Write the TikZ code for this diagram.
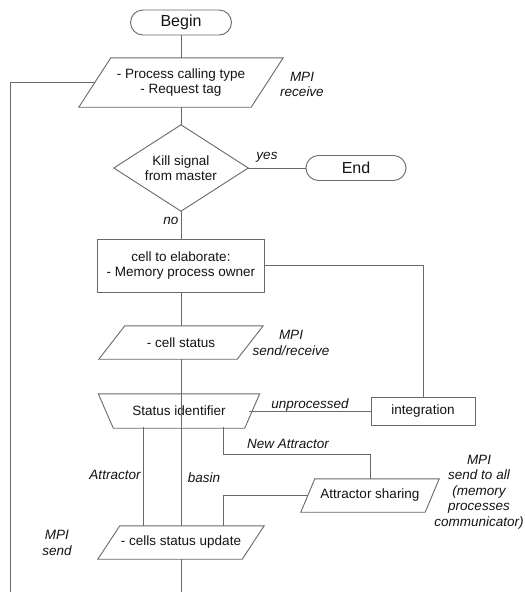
\documentclass[tikz,border=0pt]{standalone}
\usepackage{fontspec}
\setmainfont{Liberation Sans}
\definecolor{lc}{RGB}{105,105,105}
\definecolor{tc}{RGB}{20,20,20}
\begin{document}
\begin{tikzpicture}[x=1pt,y=-1pt,
  box/.style={draw=lc, line width=0.9pt},
  shp/.style={draw=lc, line width=0.9pt},
  txt/.style={font=\fontsize{13.5}{15.5}\selectfont, text=tc, align=center, inner sep=0pt},
  big/.style={font=\fontsize{16}{18}\selectfont},
  lab/.style={font=\fontsize{13.5}{15.5}\selectfont\itshape, text=tc, align=center, inner sep=0pt},
  conn/.style={draw=lc, line width=0.9pt}]
\useasboundingbox (0,0) rectangle (525,592);
\fill[white] (0,0) rectangle (525,592);

% nodes
\node[box, txt, big, rounded corners=12.5pt, minimum width=101pt, minimum height=25pt] (begin) at (181,22.5) {Begin};
\node[txt, minimum width=172pt, minimum height=49pt] (proc) at (181,82.5) {- Process calling type\\- Request tag};
\draw[shp] ([xshift=16pt]proc.north west) -- ([xshift=16pt]proc.north east) -- ([xshift=-16pt]proc.south east) -- ([xshift=-16pt]proc.south west) -- cycle;

\node[txt, minimum width=134pt, minimum height=86pt] (kill) at (181,168) {Kill signal\\from master};
\draw[shp] (kill.north) -- (kill.east) -- (kill.south) -- (kill.west) -- cycle;

\node[box, txt, big, rounded corners=12.5pt, minimum width=100pt, minimum height=25pt] (end) at (356,168) {End};

\node[box, txt, minimum width=167pt, minimum height=53pt] (cell) at (181,265.5) {cell to elaborate:\\- Memory process owner};

\node[txt, minimum width=138pt, minimum height=33pt] (cst) at (181,342.5) {- cell status};
\draw[shp] ([xshift=13pt]cst.north west) -- ([xshift=13pt]cst.north east) -- ([xshift=-13pt]cst.south east) -- ([xshift=-13pt]cst.south west) -- cycle;

\node[txt, minimum width=161pt, minimum height=34pt] (ident) at (179,411) {Status identifier};
\draw[shp] (ident.north west) -- (ident.north east) -- ([xshift=-15pt]ident.south east) -- ([xshift=15pt]ident.south west) -- cycle;

\node[box, txt, minimum width=104pt, minimum height=28pt] (integ) at (423,411) {integration};

\node[txt, minimum width=124pt, minimum height=33pt] (share) at (370,495.5) {Attractor sharing};
\draw[shp] ([xshift=7pt]share.north west) -- ([xshift=7pt]share.north east) -- ([xshift=-7pt]share.south east) -- ([xshift=-7pt]share.south west) -- cycle;

\node[txt, minimum width=144pt, minimum height=33pt] (upd) at (181,542.5) {- cells status update};
\draw[shp] ([xshift=11pt]upd.north west) -- ([xshift=11pt]upd.north east) -- ([xshift=-11pt]upd.south east) -- ([xshift=-11pt]upd.south west) -- cycle;

% coordinates
\coordinate (loopb) at (10,592);
\coordinate (mainb) at (181,592);
\coordinate (nabend) at (223,454);
\coordinate (atop) at (143,427);
\coordinate (btop) at (181,427);
\coordinate (ctop) at (223,427);
\coordinate (ubot1) at (143,526);
\coordinate (ubot2) at (181,526);
\coordinate (ubot3) at (223,526);
\coordinate (idr) at (249,411);

% connectors
\draw[conn] (begin.south) -- (proc.north);
\draw[conn] (proc.south) -- (kill.north);
\draw[conn] (kill.east) -- (end.west);
\draw[conn] (kill.south) -- (cell.north);
\draw[conn] (cell.south) -- (cst.north);
\draw[conn] (cst.south) -- (btop);
\draw[conn] (cell.east) -| (integ.north);
\draw[conn] (idr) -- (integ.west);
\draw[conn] (atop) -- (ubot1);
\draw[conn] (btop) -- (ubot2);
\draw[conn] (ctop) -- (nabend) -| (share.north);
\draw[conn] (share.west) -| (ubot3);
\draw[conn] (proc.west) -| (loopb);
\draw[conn] (upd.south) -- (mainb);

% labels
\node[lab] (yes) at (267,157) {yes};
\node[lab] (no) at (171,221) {no};
\node[lab] (mpi1) at (302,84.5) {MPI\\receive};
\node[lab] (mpi2) at (291,343) {MPI\\send/receive};
\node[lab] (unp) at (310,405) {unprocessed};
\node[lab] (natt) at (288,444) {New Attractor};
\node[lab] (att) at (115,475) {Attractor};
\node[lab] (bas) at (204,478) {basin};
\node[lab] (mpi3) at (57,543) {MPI\\send};
\node[lab] (mpi4) at (479,492) {MPI\\send to all\\(memory\\processes\\communicator)};
\end{tikzpicture}
\end{document}
